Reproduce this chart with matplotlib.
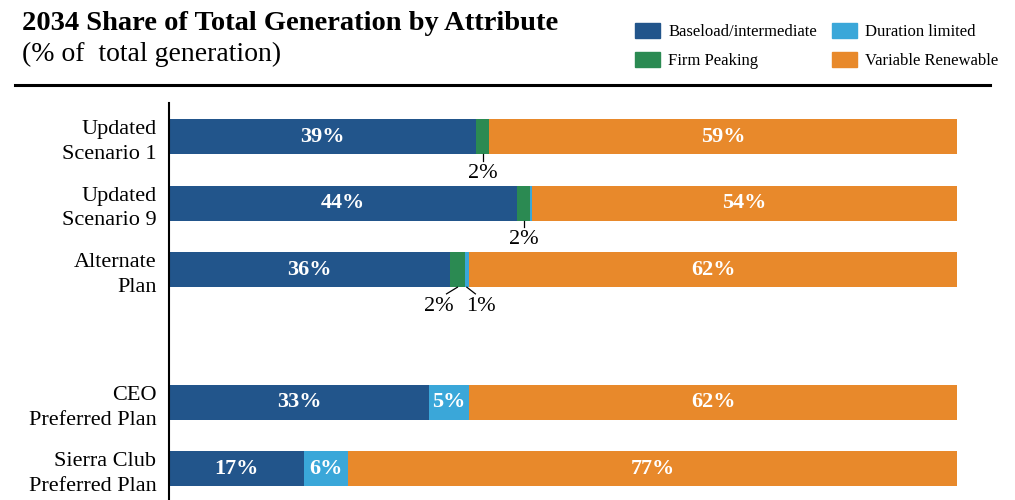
import matplotlib.pyplot as plt
from matplotlib.patches import Patch
from matplotlib.lines import Line2D

plt.rcParams['font.family'] = ['Liberation Serif', 'DejaVu Serif']

# ── Data ──────────────────────────────────────────────
plans = ["Updated\nScenario 1", "Updated\nScenario 9", "Alternate\nPlan",
         "CEO\nPreferred Plan", "Sierra Club\nPreferred Plan"]
slots = [0, 1, 2, 4, 5]   # empty slot between the two groups

baseload  = [39.0, 44.2, 35.7, 33.0, 17.1]
firm_peak = [1.6, 1.6, 1.8, 0.0, 0.0]
duration  = [0.0, 0.3, 0.6, 5.1, 5.6]
variable  = [59.4, 53.9, 61.9, 61.9, 77.3]

series_names = ["Baseload/intermediate", "Firm Peaking",
                "Duration limited", "Variable Renewable"]
colors = ["#22558b", "#2b8a52", "#3aa7d9", "#e8892b"]

# ── Figure ────────────────────────────────────────────
fig = plt.figure(figsize=(10.15, 5.0), dpi=100)
ax = fig.add_axes([169 / 1015, 0.0, 788 / 1015, 397 / 500])

series = [baseload, firm_peak, duration, variable]
left = [0.0] * len(plans)
for vals, col in zip(series, colors):
    ax.barh(slots, vals, left=left, height=0.53, color=col, edgecolor="none")
    for i, v in enumerate(vals):
        if v >= 4:
            ax.text(left[i] + v / 2, slots[i], f"{v:.0f}%", ha="center",
                    va="center", color="white", fontsize=16, fontweight="bold")
    left = [l + v for l, v in zip(left, vals)]

# small segments get a label under the bar with a leader line
def small_label(i, start, v, dx=0.0):
    xc = start + v / 2
    y0 = slots[i] + 0.265
    ax.plot([xc, xc + dx * 0.6], [y0, y0 + 0.1], color="black", lw=0.9)
    ax.text(xc + dx, slots[i] + 0.55, f"{v:.0f}%", ha="center", va="center",
            fontsize=16, color="black")

small_label(0, baseload[0], firm_peak[0])
small_label(1, baseload[1], firm_peak[1])
small_label(2, baseload[2], firm_peak[2], dx=-2.3)
small_label(2, baseload[2] + firm_peak[2], duration[2], dx=1.8)

ax.set_xlim(0, 100)
ax.set_ylim(5.47, -0.51)
ax.set_yticks(slots)
ax.set_yticklabels(plans, fontsize=16, linespacing=1.4)
ax.tick_params(axis="y", length=0, pad=9)
ax.set_xticks([])
for s in ["top", "right", "bottom"]:
    ax.spines[s].set_visible(False)
ax.spines["left"].set_linewidth(1.5)

# ── Title & legend ────────────────────────────────────
fig.text(22 / 1015, 1 - 23 / 500, "2034 Share of Total Generation by Attribute",
         fontsize=20.5, fontweight="bold", va="center", ha="left")
fig.text(22 / 1015, 1 - 54 / 500, "(% of  total generation)",
         fontsize=20, va="center", ha="left")
fig.add_artist(Line2D([15 / 1015, 990 / 1015], [1 - 85 / 500, 1 - 85 / 500],
                      color="black", lw=2.2))

handles = [Patch(color=c, label=n) for n, c in zip(series_names, colors)]
fig.legend(handles=handles, ncol=2, loc="center left",
           bbox_to_anchor=(620 / 1015, 1 - 46 / 500), frameon=False,
           fontsize=12, handlelength=1.5, handleheight=1.0,
           columnspacing=0.9, handletextpad=0.5, labelspacing=0.7)

plt.savefig("out.png", dpi=100)
